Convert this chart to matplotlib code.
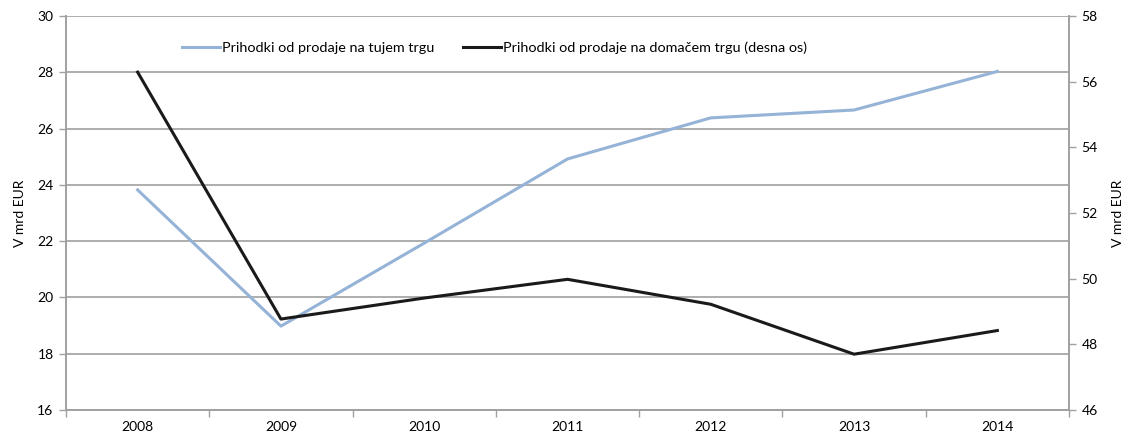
import matplotlib.pyplot as plt
import matplotlib

matplotlib.rcParams['font.family'] = ['Lato', 'DejaVu Sans']

# podatki
leta = ['2008', '2009', '2010', '2011', '2012', '2013', '2014']
tuji_trg = [23.82, 18.98, 21.93, 24.92, 26.38, 26.66, 28.03]
domaci_trg = [56.29, 48.77, 49.41, 49.98, 49.22, 47.70, 48.42]

grid_c = '#a0a0a0'

fig = plt.figure(figsize=(11.31, 4.42), dpi=100)
ax = fig.add_axes([66 / 1131, 32 / 442, (1069 - 66) / 1131, (410 - 16) / 442])
ax2 = ax.twinx()

x = range(len(leta))
l1, = ax.plot(x, tuji_trg, color='#95b3d7', linewidth=2.2,
              label='Prihodki od prodaje na tujem trgu')
l2, = ax2.plot(x, domaci_trg, color='#1a1a1a', linewidth=2.2,
               label='Prihodki od prodaje na domačem trgu (desna os)')

ax.set_xlim(-0.5, len(leta) - 0.5)
ax.set_ylim(16, 30)
ax.set_yticks(range(16, 31, 2))
ax2.set_ylim(46, 58)
ax2.set_yticks(range(46, 59, 2))

# kategorijska os: oznake na sredini, kljukice med kategorijami
ax.set_xticks(list(x))
ax.set_xticklabels(leta)
ax.set_xticks([i + 0.5 for i in range(-1, len(leta))], minor=True)
ax.tick_params(axis='x', which='major', length=0, pad=8, labelsize=10)
ax.tick_params(axis='x', which='minor', length=5, color=grid_c, width=1)
ax.tick_params(axis='y', length=5, color=grid_c, width=1, labelsize=10, pad=4)
ax2.tick_params(axis='y', length=5, color=grid_c, width=1, labelsize=10, pad=4)

ax.grid(True, axis='y', color=grid_c, linewidth=1.2)
ax.set_axisbelow(True)

for a in (ax, ax2):
    for spine in a.spines.values():
        spine.set_color(grid_c)
        spine.set_linewidth(1.2)
    a.spines['top'].set_visible(False)

ax.set_ylabel('V mrd EUR', fontsize=10, labelpad=8)
ax2.set_ylabel('V mrd EUR', fontsize=10, labelpad=10, rotation=90)

fig.legend(handles=[l1, l2], loc='center left',
           bbox_to_anchor=(182 / 1131, 1 - 48 / 442),
           ncol=2, frameon=False, fontsize=10.4, handlelength=2.6,
           handletextpad=0.15, columnspacing=2.0, borderpad=0,
           borderaxespad=0)

fig.savefig('out.png', dpi=100)
